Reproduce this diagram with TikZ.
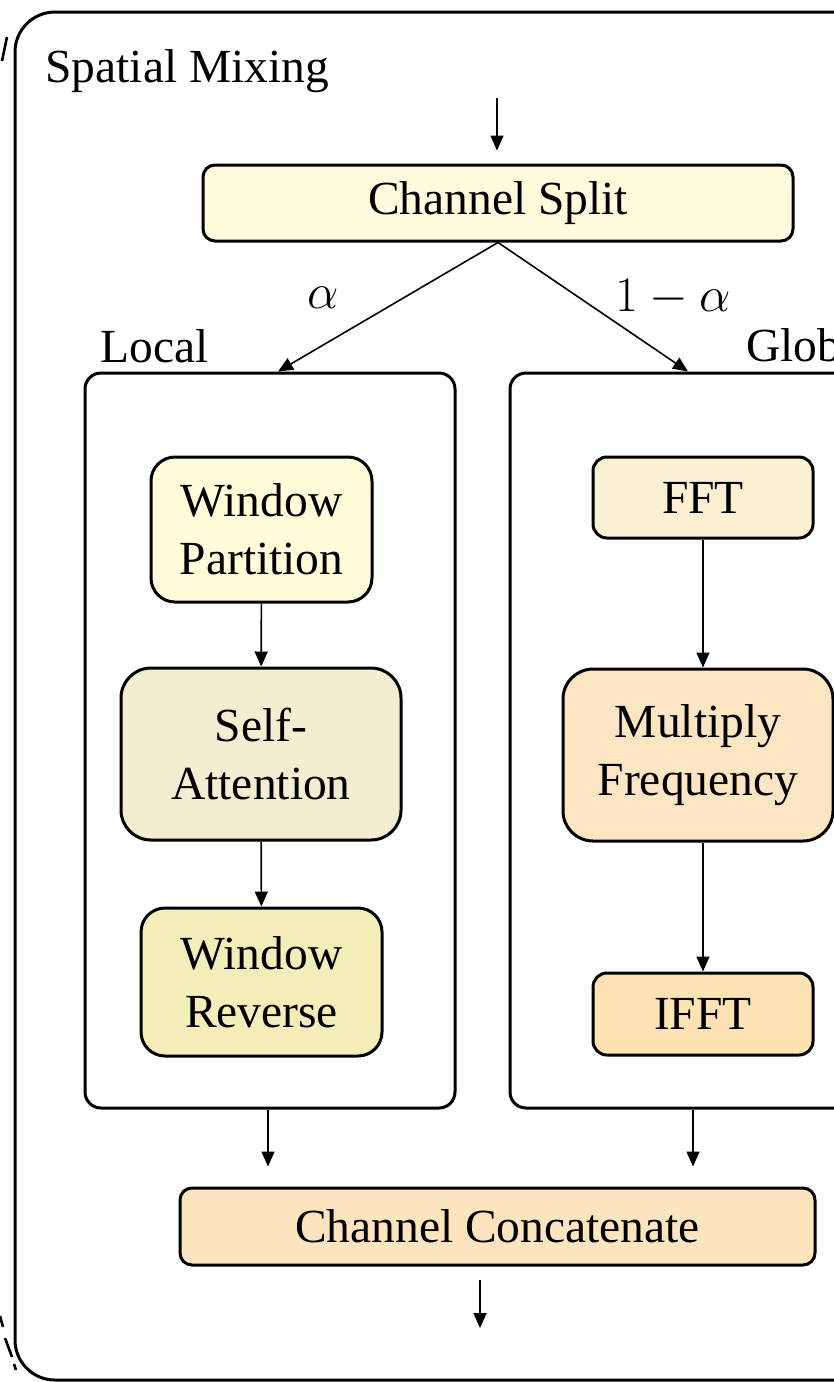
\documentclass[tikz,border=0pt]{standalone}
\usepackage{fontspec}
\setmainfont{Liberation Serif}
\usetikzlibrary{arrows.meta,positioning}

\definecolor{cSplit}{RGB}{255,252,222}
\definecolor{cPart}{RGB}{255,252,218}
\definecolor{cAttn}{RGB}{243,237,210}
\definecolor{cRev}{RGB}{243,238,185}
\definecolor{cFFT}{RGB}{250,241,210}
\definecolor{cMult}{RGB}{252,229,195}
\definecolor{cIFFT}{RGB}{253,227,180}
\definecolor{cConcat}{RGB}{252,228,190}

\tikzset{
  blk/.style={draw, line width=1.5pt, rounded corners=7pt, align=center, inner sep=0pt},
  grp/.style={draw, line width=1.5pt, rounded corners=8pt, inner sep=0pt},
  arr/.style={line width=0.8pt, -{Triangle[length=7.5pt,width=6.5pt]}},
  lbl/.style={inner sep=0pt}
}

\begin{document}
\begin{tikzpicture}[x=0.5pt,y=0.5pt,yscale=-1,xscale=1,
  font=\fontsize{23.75pt}{29pt}\selectfont]
\useasboundingbox (0,0) rectangle (834,1382);
\clip (0,0) rectangle (834,1382);

%Shape: outer frame
\draw [line width=1.5pt, rounded corners=20pt] (15,1380) -- (15,12) -- (900,12) -- (900,1380) -- cycle ;
%Shape: dashed pieces at the left edge
\draw [line width=1.3pt] (7,37) -- (2,61) ;
\draw [line width=1.3pt] (0,1316) -- (3,1327) ;
\draw [line width=1.3pt] (5,1338) -- (12,1357) ;
\draw [line width=1.3pt] (14,1364) -- (16,1370) ;

% Text Node
\node [lbl, anchor=base west] (title) at (45,82) {Spatial Mixing};

%Shape: group boxes
\node [grp, minimum width=370*0.5pt, minimum height=735*0.5pt] (local) at (270,740.5) {};
\node [grp, minimum width=370*0.5pt, minimum height=735*0.5pt] (global) at (695,740.5) {};
% Text Node
\node [lbl, anchor=base west] (loclbl) at (100,362) {Local};
% Text Node
\node [lbl, anchor=base west] (glolbl) at (746,361) {Global};

%Shape: blocks
\node [blk, fill=cSplit, rounded corners=6pt, minimum width=590*0.5pt, minimum height=76*0.5pt] (split) at (498,203) {Channel Split};
\node [blk, fill=cPart, rounded corners=12pt, minimum width=221*0.5pt, minimum height=145*0.5pt] (wpart) at (261.5,529.5) {Window\\Partition};
\node [blk, fill=cAttn, rounded corners=15pt, minimum width=280*0.5pt, minimum height=172*0.5pt] (selfatt) at (261,754) {Self-\\Attention};
\node [blk, fill=cRev, rounded corners=12pt, minimum width=241*0.5pt, minimum height=148*0.5pt] (wrev) at (261.5,982) {Window\\Reverse};
\node [blk, fill=cFFT, minimum width=220*0.5pt, minimum height=81*0.5pt] (fft) at (703,497.5) {FFT};
\node [blk, fill=cMult, rounded corners=15pt, minimum width=270*0.5pt, minimum height=172*0.5pt] (mult) at (698,755) {Multiply\\Frequency};
\node [blk, fill=cIFFT, minimum width=220*0.5pt, minimum height=82*0.5pt] (ifft) at (703,1014) {IFFT};
\node [blk, fill=cConcat, rounded corners=6pt, minimum width=635*0.5pt, minimum height=77*0.5pt] (concat) at (497.5,1226.5) {Channel Concatenate};

% Text Node
\node [lbl] (alpha) at (323,298) {$\alpha$};
% Text Node
\node [lbl] (beta) at (673,298) {$1-\alpha$};

%Straight Lines: input and output
\coordinate (in) at (497,98);
\coordinate (out) at (480,1328);
\coordinate (outstart) at (480,1280);
\draw [arr, shorten >=6.5pt] (in) -- (in |- split.north) ;
\draw [arr] (outstart) -- (out) ;

%Straight Lines: split to branches
\draw [arr] (split.south) -- ([xshift=4pt]local.north) ;
\draw [arr] (split.south) -- ([xshift=-3.5pt]global.north) ;

%Straight Lines: local branch
\draw [arr] (wpart) -- (selfatt) ;
\draw [arr] (selfatt) -- (wrev) ;
%Straight Lines: global branch
\draw [arr] (fft.south) -- (fft.south |- mult.north) ;
\draw [arr] (fft.south |- mult.south) -- (fft.south |- ifft.north) ;

%Straight Lines: branches to concat
\draw [arr, shorten >=10pt] ([xshift=-1pt]local.south) -- ([xshift=-1pt]local.south |- concat.north) ;
\draw [arr, shorten >=10pt] ([xshift=-1pt]global.south) -- ([xshift=-1pt]global.south |- concat.north) ;

\end{tikzpicture}
\end{document}
